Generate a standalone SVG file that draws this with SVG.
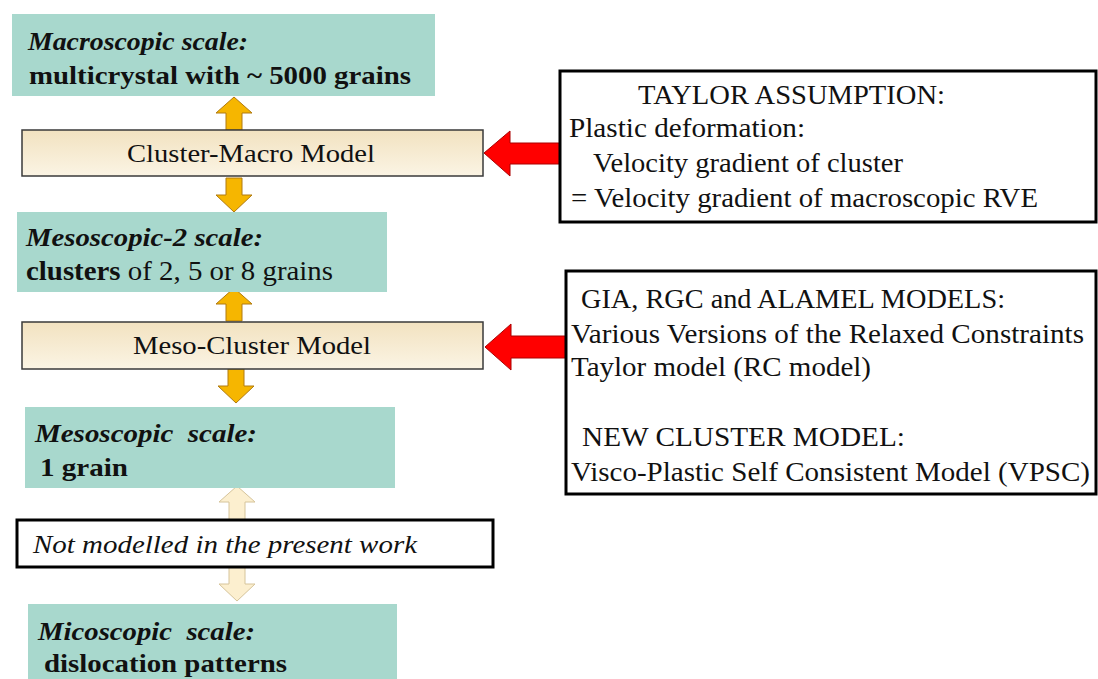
<svg xmlns="http://www.w3.org/2000/svg" width="1098" height="679" viewBox="0 0 1098 679">
<defs>
<linearGradient id="beige" x1="0" y1="0" x2="0" y2="1">
<stop offset="0" stop-color="#f2e2c0"/>
<stop offset="1" stop-color="#fbf4e4"/>
</linearGradient>
<style>
.teal{fill:#a8d8cd}
.model{fill:url(#beige);stroke:#3a3a3a;stroke-width:1.5}
.note{fill:#fff;stroke:#000;stroke-width:3}
text{fill:#111;font-family:Times,'Liberation Serif','Times New Roman',serif}
.bi{font-weight:bold;font-style:italic;font-size:26px}
.b{font-weight:bold;font-size:26px}
.r{font-size:26px}
.n{font-size:27px}
.orange{fill:#f6b600;stroke:#b07a10;stroke-width:1}
.pale{fill:#fcefcf;stroke:#d6c49a;stroke-width:1}
.red{fill:#f00;stroke:#a00;stroke-width:1}
</style>
</defs>
<rect width="1098" height="679" fill="#fff"/>

<g id="connectors">
<path class="orange" d="M226 130 V113 H216 L234 97 L252 113 H242 V130 Z"/>
<path class="orange" d="M226 178 V195 H216 L234 212 L252 195 H242 V178 Z"/>
<path class="orange" d="M226 321 V304 H216 L234 288 L252 304 H242 V321 Z"/>
<path class="orange" d="M228 369 V386 H218 L236 403 L254 386 H244 V369 Z"/>
<path class="pale" d="M229 520 V502 H219 L237 486 L255 502 H245 V520 Z"/>
<path class="pale" d="M229 567 V584 H219 L237 601 L255 584 H245 V567 Z"/>
<path class="red" d="M560 143 H510 V131 L484 153 L510 176 V164 H560 Z"/>
<path class="red" d="M566 336 H511 V324 L485 347 L511 370 V358 H566 Z"/>
</g>

<g id="macro">
<rect class="teal" x="12" y="14" width="423" height="82"/>
<text class="bi" x="28" y="50" textLength="220" lengthAdjust="spacingAndGlyphs">Macroscopic scale:</text>
<text class="b" x="29" y="84" textLength="382" lengthAdjust="spacingAndGlyphs">multicrystal with ~ 5000 grains</text>
</g>

<g id="cluster-macro">
<rect class="model" x="22" y="130" width="461" height="46"/>
<text class="r" x="127" y="162" textLength="248" lengthAdjust="spacingAndGlyphs">Cluster-Macro Model</text>
</g>

<g id="meso2">
<rect class="teal" x="17" y="212" width="370" height="80"/>
<text class="bi" x="26" y="246" textLength="237" lengthAdjust="spacingAndGlyphs">Mesoscopic-2 scale:</text>
<text class="n" x="26" y="280" textLength="307" lengthAdjust="spacingAndGlyphs"><tspan font-weight="bold">clusters</tspan> of 2, 5 or 8 grains</text>
</g>

<g id="meso-cluster">
<rect class="model" x="22" y="322" width="461" height="47"/>
<text class="r" x="133" y="354" textLength="238" lengthAdjust="spacingAndGlyphs">Meso-Cluster Model</text>
</g>

<g id="meso">
<rect class="teal" x="25" y="407" width="370" height="81"/>
<text class="bi" x="35" y="442" xml:space="preserve" textLength="222" lengthAdjust="spacingAndGlyphs">Mesoscopic  scale:</text>
<text class="b" x="40" y="476" textLength="88" lengthAdjust="spacingAndGlyphs">1 grain</text>
</g>

<g id="not-modelled">
<rect class="note" x="17" y="520" width="476" height="47" stroke-width="2.5"/>
<text class="r" x="33" y="553" font-style="italic" textLength="384" lengthAdjust="spacingAndGlyphs">Not modelled in the present work</text>
</g>

<g id="micro">
<rect class="teal" x="28" y="604" width="369" height="75"/>
<text class="bi" x="38" y="640" xml:space="preserve" textLength="217" lengthAdjust="spacingAndGlyphs">Micoscopic  scale:</text>
<text class="b" x="44" y="672" textLength="243" lengthAdjust="spacingAndGlyphs">dislocation patterns</text>
</g>

<g id="taylor">
<rect class="note" x="560" y="71" width="536" height="151"/>
<text class="n" x="638" y="104" textLength="307" lengthAdjust="spacingAndGlyphs">TAYLOR ASSUMPTION:</text>
<text class="n" x="569" y="137" textLength="236" lengthAdjust="spacingAndGlyphs">Plastic deformation:</text>
<text class="n" x="593" y="172" textLength="310" lengthAdjust="spacingAndGlyphs">Velocity gradient of cluster</text>
<text class="n" x="571" y="207" textLength="467" lengthAdjust="spacingAndGlyphs">= Velocity gradient of macroscopic RVE</text>
</g>

<g id="models">
<rect class="note" x="566" y="271" width="530" height="223"/>
<text class="n" x="581" y="308" textLength="424" lengthAdjust="spacingAndGlyphs">GIA, RGC and ALAMEL MODELS:</text>
<text class="n" x="571" y="343" textLength="513" lengthAdjust="spacingAndGlyphs">Various Versions of the Relaxed Constraints</text>
<text class="n" x="571" y="376" textLength="300" lengthAdjust="spacingAndGlyphs">Taylor model (RC model)</text>
<text class="n" x="582" y="446" textLength="323" lengthAdjust="spacingAndGlyphs">NEW CLUSTER MODEL:</text>
<text class="n" x="571" y="481" textLength="519" lengthAdjust="spacingAndGlyphs">Visco-Plastic Self Consistent Model (VPSC)</text>
</g>
</svg>
